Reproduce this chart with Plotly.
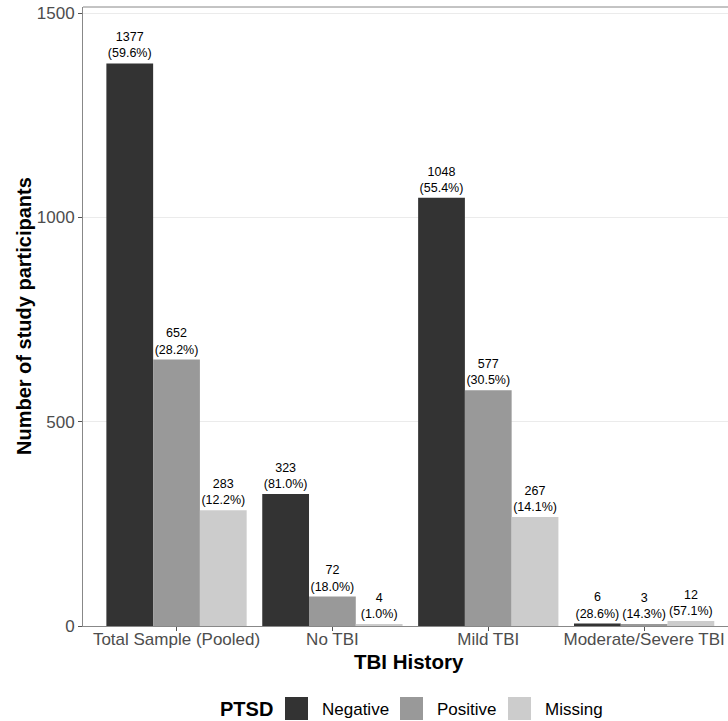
import plotly.graph_objects as go

categories = ["Total Sample (Pooled)", "No TBI", "Mild TBI", "Moderate/Severe TBI"]
groups = ["Negative", "Positive", "Missing"]
negative = [1377, 323, 1048, 6]
positive = [652, 72, 577, 3]
missing = [283, 4, 267, 12]
neg_pct = ["59.6%", "81.0%", "55.4%", "28.6%"]
pos_pct = ["28.2%", "18.0%", "30.5%", "14.3%"]
mis_pct = ["12.2%", "1.0%", "14.1%", "57.1%"]
colors = ["#333333", "#999999", "#CCCCCC"]
y_ticks = [0, 500, 1000, 1500]

series = [negative, positive, missing]
pcts = [neg_pct, pos_pct, mis_pct]

FONT = "Liberation Sans, Arial, sans-serif"

fig = go.Figure()
for g, vals, pc, col in zip(groups, series, pcts, colors):
    fig.add_trace(go.Bar(
        x=categories, y=vals, name=g, marker=dict(color=col, line=dict(width=0)),
        text=[f"{v}<br>({p})" for v, p in zip(vals, pc)],
        textposition="outside", constraintext="none", cliponaxis=False,
        textfont=dict(family=FONT, size=12.5, color="#000000"),
        showlegend=False,
    ))

fig.update_layout(
    width=728, height=721,
    margin=dict(l=83, r=0, t=7, b=95),
    barmode="group", bargap=0.1, bargroupgap=0,
    plot_bgcolor="white", paper_bgcolor="white",
    font=dict(family=FONT, color="#4D4D4D"),
)
fig.update_xaxes(
    range=[-0.6, 3.538], showgrid=False, showline=True, linecolor="#888888", linewidth=1,
    ticks="outside", ticklen=4, tickcolor="#555555", ticklabelstandoff=-6,
    tickfont=dict(size=17, color="#4D4D4D"), mirror=False,
)
fig.update_yaxes(
    range=[0, 1515], tickvals=y_ticks, showgrid=True, gridcolor="#EBEBEB", gridwidth=1,
    showline=True, linecolor="#888888", linewidth=1, ticks="outside", ticklen=4,
    tickcolor="#555555", tickfont=dict(size=17, color="#4D4D4D"), zeroline=False,
)
# top border
fig.add_shape(type="line", xref="paper", yref="paper", x0=0, x1=1, y0=1, y1=1,
              line=dict(color="#888888", width=1))

def px_x(x):
    return (x - 83) / 645

def px_y(y):
    return (626 - y) / 619

# axis titles
fig.add_annotation(text="<b>TBI History</b>", xref="paper", yref="paper",
                   x=px_x(409), y=px_y(661), xanchor="center", yanchor="middle",
                   showarrow=False, font=dict(family=FONT, size=20.5, color="#000000"))
fig.add_annotation(text="<b>Number of study participants</b>", xref="paper", yref="paper",
                   x=px_x(24), y=px_y(316), textangle=-90, xanchor="center", yanchor="middle",
                   showarrow=False, font=dict(family=FONT, size=20, color="#000000"))

# legend (manual)
fig.add_annotation(text="<b>PTSD</b>", xref="paper", yref="paper", x=px_x(246), y=px_y(709),
                   xanchor="center", yanchor="middle", showarrow=False,
                   font=dict(family=FONT, size=20, color="#000000"))
leg_sq = [285, 400, 508]
leg_tx = [320, 435, 543]
for g, col, sx, tx in zip(groups, colors, leg_sq, leg_tx):
    fig.add_shape(type="rect", xref="paper", yref="paper", x0=px_x(sx), x1=px_x(sx + 23),
                  y0=px_y(720), y1=px_y(697), fillcolor=col, line=dict(width=0))
    fig.add_annotation(text=g, xref="paper", yref="paper", x=px_x(tx), y=px_y(709),
                       xanchor="left", yanchor="middle", showarrow=False,
                       font=dict(family=FONT, size=17, color="#000000"))

fig.write_html("out.html", config={"displayModeBar": False},
               post_script="document.body.style.margin='0';document.body.style.overflow='hidden';")
